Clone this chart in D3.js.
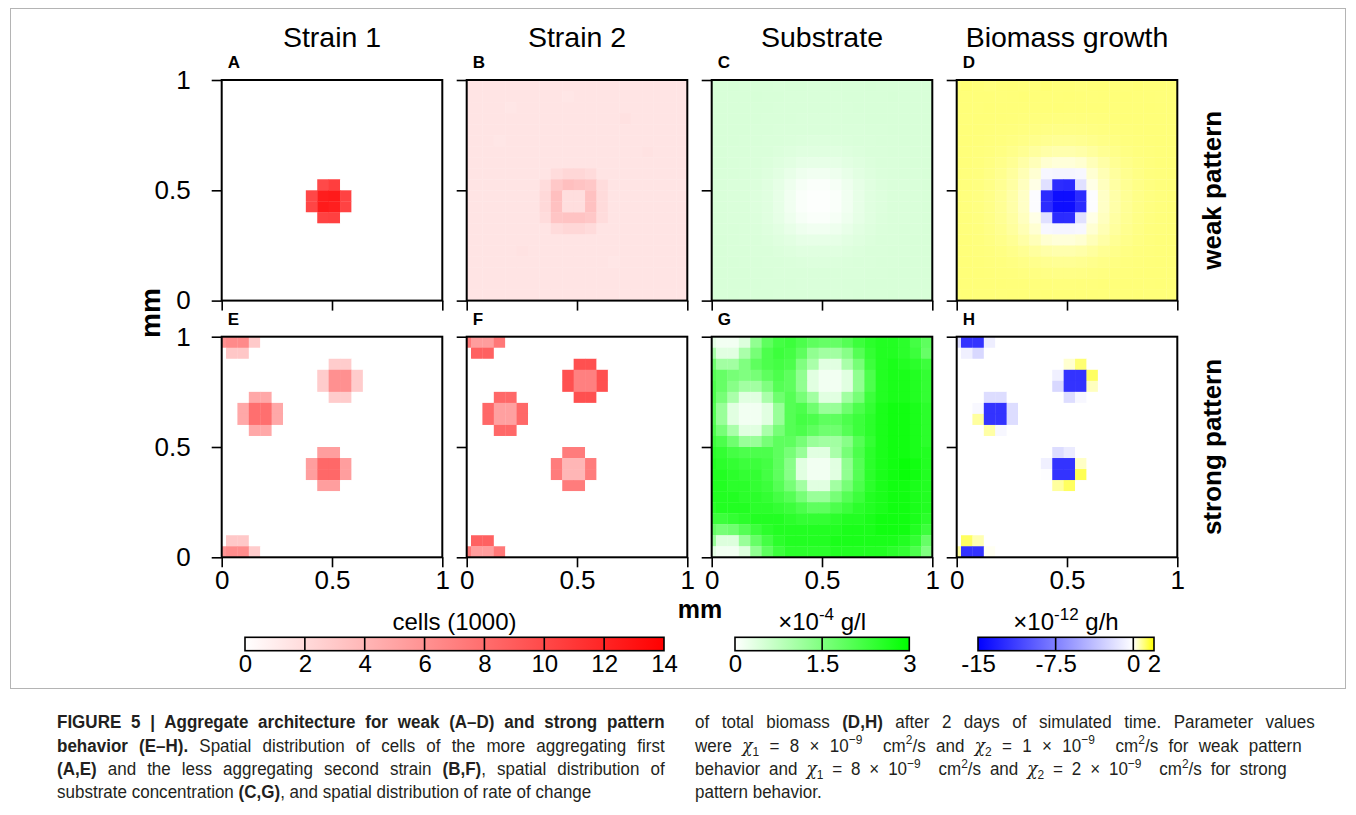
<!DOCTYPE html>
<html>
<head>
<meta charset="utf-8">
<script src="https://cdn.jsdelivr.net/npm/d3@7"></script>
<style>
  html, body { margin: 0; padding: 0; background: #ffffff; }
  svg { display: block; font-family: "Liberation Sans", Arial, sans-serif; }
</style>
</head>
<body>
<svg id="fig" width="1356" height="815"></svg>
<script>
// ---------- labels ----------
const columnTitles = ["Strain 1", "Strain 2", "Substrate", "Biomass growth"];
const rowTitles = ["weak pattern", "strong pattern"];
const panelLetters = [["A", "B", "C", "D"], ["E", "F", "G", "H"]];
const axisTicks = [0, 0.5, 1];

// ---------- simulation grid (mm) ----------
const nRows = 20, nCols = 20;
const cellWidthMM = 0.0517, firstColumnEdgeMM = -0.0322, cellHeightMM = 0.05;

// ---------- colour bar ticks ----------
const cellsTicks = [0, 2, 4, 6, 8, 10, 12, 14];
const substrateTicks = [0, 1.5, 3];
const growthTicks = [-15, -7.5, 0, 2];

// ---------- Strain 1, weak pattern (cells, 1000) : [row, col, value], rest 0 ----------
const strain1WeakBase = 0;
const strain1WeakCells = [
  [9, 9, 10.0], [9, 10, 10.6],
  [10, 8, 10.1], [10, 9, 12.4], [10, 10, 12.6], [10, 11, 10.4],
  [11, 8, 10.2], [11, 9, 12.5], [11, 10, 12.3], [11, 11, 10.3],
  [12, 9, 10.4], [12, 10, 10.5]
];

// ---------- Strain 2, weak pattern ----------
const strain2WeakBase = 1.5;
const strain2WeakCells = [
  [2, 4, 1.35], [3, 14, 1.65], [5, 3, 1.4], [6, 16, 1.6], [15, 5, 1.6], [16, 13, 1.4], [1, 9, 1.35],
  [8, 8, 1.9], [8, 9, 2.2], [8, 10, 2.2], [8, 11, 2.0],
  [9, 7, 1.9], [9, 8, 3.0], [9, 9, 3.5], [9, 10, 3.3], [9, 11, 3.1], [9, 12, 1.9],
  [10, 7, 2.1], [10, 8, 3.5], [10, 9, 1.8], [10, 10, 1.8], [10, 11, 3.4], [10, 12, 2.0],
  [11, 7, 2.1], [11, 8, 3.4], [11, 9, 1.8], [11, 10, 1.8], [11, 11, 3.4], [11, 12, 2.0],
  [12, 7, 1.9], [12, 8, 3.2], [12, 9, 3.3], [12, 10, 3.3], [12, 11, 3.1], [12, 12, 1.9],
  [13, 8, 2.0], [13, 9, 2.2], [13, 10, 2.2], [13, 11, 2.0]
];

// ---------- Substrate, weak pattern (x1e-4 g/l) ----------
const substrateWeak = [
  [0.46,0.46,0.47,0.46,0.46,0.46,0.45,0.46,0.46,0.45,0.45,0.46,0.46,0.46,0.47,0.46,0.46,0.46,0.46,0.46],
  [0.46,0.46,0.46,0.46,0.47,0.46,0.46,0.45,0.45,0.45,0.45,0.45,0.46,0.46,0.46,0.46,0.47,0.46,0.46,0.46],
  [0.46,0.46,0.46,0.46,0.46,0.46,0.45,0.45,0.45,0.45,0.45,0.45,0.45,0.46,0.46,0.46,0.46,0.46,0.46,0.46],
  [0.46,0.46,0.46,0.46,0.46,0.45,0.45,0.45,0.44,0.44,0.44,0.44,0.45,0.45,0.46,0.46,0.46,0.46,0.46,0.46],
  [0.46,0.46,0.46,0.46,0.45,0.45,0.44,0.44,0.43,0.43,0.43,0.43,0.44,0.44,0.45,0.45,0.46,0.46,0.46,0.46],
  [0.46,0.46,0.46,0.45,0.45,0.44,0.43,0.42,0.41,0.40,0.40,0.41,0.42,0.43,0.44,0.45,0.45,0.46,0.46,0.46],
  [0.46,0.46,0.45,0.45,0.44,0.43,0.41,0.39,0.37,0.36,0.36,0.37,0.39,0.41,0.43,0.44,0.45,0.45,0.46,0.46],
  [0.46,0.46,0.45,0.44,0.43,0.41,0.38,0.34,0.30,0.28,0.28,0.30,0.34,0.38,0.41,0.43,0.44,0.45,0.46,0.46],
  [0.46,0.45,0.45,0.44,0.42,0.39,0.34,0.27,0.20,0.16,0.16,0.20,0.27,0.34,0.39,0.42,0.44,0.45,0.45,0.46],
  [0.46,0.45,0.44,0.43,0.41,0.37,0.30,0.20,0.11,0.06,0.06,0.11,0.20,0.30,0.37,0.41,0.43,0.44,0.45,0.46],
  [0.46,0.45,0.44,0.43,0.40,0.36,0.28,0.16,0.06,0.02,0.02,0.06,0.16,0.28,0.36,0.40,0.43,0.44,0.45,0.46],
  [0.46,0.45,0.44,0.43,0.40,0.36,0.28,0.16,0.06,0.02,0.02,0.06,0.16,0.28,0.36,0.40,0.43,0.44,0.45,0.46],
  [0.46,0.45,0.44,0.43,0.41,0.37,0.30,0.20,0.11,0.06,0.06,0.11,0.20,0.30,0.37,0.41,0.43,0.44,0.45,0.46],
  [0.46,0.45,0.45,0.44,0.42,0.39,0.34,0.27,0.20,0.16,0.16,0.20,0.27,0.34,0.39,0.42,0.44,0.45,0.45,0.46],
  [0.46,0.46,0.45,0.44,0.43,0.41,0.38,0.34,0.30,0.28,0.28,0.30,0.34,0.38,0.41,0.43,0.44,0.45,0.46,0.46],
  [0.46,0.46,0.45,0.45,0.44,0.43,0.41,0.39,0.37,0.36,0.36,0.37,0.39,0.41,0.43,0.44,0.45,0.45,0.46,0.46],
  [0.46,0.46,0.46,0.45,0.45,0.44,0.43,0.42,0.41,0.40,0.40,0.41,0.42,0.43,0.44,0.45,0.45,0.46,0.46,0.46],
  [0.46,0.46,0.46,0.46,0.45,0.45,0.44,0.44,0.43,0.43,0.43,0.43,0.44,0.44,0.45,0.45,0.46,0.46,0.46,0.46],
  [0.46,0.46,0.46,0.46,0.46,0.45,0.45,0.45,0.44,0.44,0.44,0.44,0.45,0.45,0.46,0.46,0.46,0.46,0.46,0.46],
  [0.46,0.46,0.47,0.46,0.46,0.46,0.45,0.45,0.45,0.45,0.45,0.45,0.45,0.46,0.46,0.46,0.47,0.46,0.46,0.46]
];

// ---------- Biomass growth, weak pattern (x1e-12 g/h) ----------
const growthWeak = [
  [1.05,1.08,1.05,1.02,1.05,1.06,1.04,1.05,1.08,1.05,1.05,1.03,1.05,1.06,1.05,1.04,1.07,1.05,1.05,1.05],
  [1.06,1.05,1.05,1.05,1.04,1.05,1.07,1.05,1.05,1.05,1.06,1.05,1.04,1.05,1.05,1.06,1.05,1.05,1.04,1.05],
  [1.05,1.05,1.04,1.06,1.05,1.05,1.05,1.04,1.05,1.06,1.05,1.05,1.05,1.05,1.04,1.05,1.05,1.06,1.05,1.05],
  [1.05,1.04,1.05,1.05,1.05,1.04,1.03,1.02,1.02,1.01,1.01,1.02,1.02,1.03,1.04,1.05,1.05,1.05,1.05,1.05],
  [1.05,1.05,1.05,1.04,1.03,1.02,1.00,0.98,0.96,0.95,0.95,0.96,0.98,1.00,1.02,1.03,1.04,1.05,1.05,1.05],
  [1.05,1.05,1.04,1.03,1.01,0.98,0.94,0.90,0.86,0.84,0.84,0.86,0.90,0.94,0.98,1.01,1.03,1.04,1.05,1.05],
  [1.05,1.04,1.03,1.01,0.97,0.92,0.85,0.76,0.68,0.64,0.64,0.68,0.76,0.85,0.92,0.97,1.01,1.03,1.04,1.05],
  [1.05,1.04,1.02,0.98,0.92,0.84,0.70,0.55,0.36,0.30,0.30,0.36,0.55,0.70,0.84,0.92,0.98,1.02,1.04,1.05],
  [1.04,1.03,1.01,0.96,0.88,0.76,0.58,0.35,-0.50,-0.60,-0.60,-0.50,0.35,0.58,0.76,0.88,0.96,1.01,1.03,1.04],
  [1.04,1.03,1.00,0.94,0.85,0.72,0.50,0.20,-1.80,-12.4,-12.6,-1.80,0.20,0.50,0.72,0.85,0.94,1.00,1.03,1.04],
  [1.04,1.02,0.99,0.93,0.83,0.68,0.45,-0.15,-12.5,-14.2,-14.2,-12.4,-0.15,0.45,0.68,0.83,0.93,0.99,1.02,1.04],
  [1.04,1.02,0.99,0.93,0.83,0.68,0.45,-0.15,-12.4,-14.2,-14.2,-12.5,-0.15,0.45,0.68,0.83,0.93,0.99,1.02,1.04],
  [1.04,1.03,1.00,0.94,0.85,0.72,0.50,0.20,-1.80,-12.5,-12.4,-1.80,0.20,0.50,0.72,0.85,0.94,1.00,1.03,1.04],
  [1.04,1.03,1.01,0.96,0.88,0.76,0.58,0.35,-0.50,-0.60,-0.60,-0.50,0.35,0.58,0.76,0.88,0.96,1.01,1.03,1.04],
  [1.05,1.04,1.02,0.98,0.92,0.84,0.70,0.55,0.36,0.30,0.30,0.36,0.55,0.70,0.84,0.92,0.98,1.02,1.04,1.05],
  [1.05,1.04,1.03,1.01,0.97,0.92,0.85,0.76,0.68,0.64,0.64,0.68,0.76,0.85,0.92,0.97,1.01,1.03,1.04,1.05],
  [1.05,1.05,1.04,1.03,1.01,0.98,0.94,0.90,0.86,0.84,0.84,0.86,0.90,0.94,0.98,1.01,1.03,1.04,1.05,1.05],
  [1.05,1.05,1.05,1.04,1.03,1.02,1.00,0.98,0.96,0.95,0.95,0.96,0.98,1.00,1.02,1.03,1.04,1.05,1.05,1.05],
  [1.06,1.05,1.05,1.05,1.05,1.04,1.04,1.03,1.03,1.02,1.02,1.03,1.03,1.04,1.04,1.05,1.05,1.05,1.06,1.05],
  [1.05,1.07,1.05,1.05,1.04,1.05,1.05,1.05,1.06,1.05,1.05,1.05,1.05,1.04,1.05,1.05,1.06,1.05,1.05,1.05]
];

// ---------- Strain 1, strong pattern ----------
const strain1StrongBase = 0;
const strain1StrongCells = [
  [0, 0, 6.0], [0, 1, 6.4], [0, 2, 6.4], [0, 3, 2.9], [1, 1, 3.1], [1, 2, 3.1],
  [18, 1, 3.0], [18, 2, 3.0], [19, 0, 5.8], [19, 1, 6.3], [19, 2, 6.3], [19, 3, 2.8],
  [2, 10, 2.8], [2, 11, 2.8], [3, 9, 2.8], [3, 10, 6.1], [3, 11, 6.1], [3, 12, 2.8],
  [4, 9, 2.8], [4, 10, 6.1], [4, 11, 6.1], [4, 12, 2.8], [5, 10, 2.8], [5, 11, 2.8],
  [5, 3, 4.8], [5, 4, 4.8], [6, 2, 4.8], [6, 3, 7.9], [6, 4, 7.9], [6, 5, 4.8],
  [7, 2, 4.8], [7, 3, 7.9], [7, 4, 7.9], [7, 5, 4.8], [8, 3, 4.8], [8, 4, 4.8],
  [10, 9, 5.3], [10, 10, 5.3], [11, 8, 5.3], [11, 9, 8.3], [11, 10, 8.3], [11, 11, 5.3],
  [12, 8, 5.3], [12, 9, 8.3], [12, 10, 8.3], [12, 11, 5.3], [13, 9, 5.3], [13, 10, 5.3]
];

// ---------- Strain 2, strong pattern ----------
const strain2StrongBase = 0;
const strain2StrongCells = [
  [0, 0, 7.4], [0, 1, 5.4], [0, 2, 5.4], [0, 3, 7.4], [1, 1, 8.7], [1, 2, 8.7],
  [18, 1, 8.7], [18, 2, 8.7], [19, 0, 7.4], [19, 1, 5.4], [19, 2, 5.4], [19, 3, 7.4],
  [2, 10, 9.6], [2, 11, 9.6], [3, 9, 9.6], [3, 10, 7.0], [3, 11, 7.0], [3, 12, 9.6],
  [4, 9, 9.6], [4, 10, 7.0], [4, 11, 7.0], [4, 12, 9.6], [5, 10, 9.6], [5, 11, 9.6],
  [5, 3, 8.3], [5, 4, 8.3], [6, 2, 8.3], [6, 3, 5.2], [6, 4, 5.2], [6, 5, 8.3],
  [7, 2, 8.3], [7, 3, 5.2], [7, 4, 5.2], [7, 5, 8.3], [8, 3, 8.3], [8, 4, 8.3],
  [10, 9, 7.2], [10, 10, 7.2], [11, 8, 7.2], [11, 9, 4.0], [11, 10, 4.0], [11, 11, 7.2],
  [12, 8, 7.2], [12, 9, 4.0], [12, 10, 4.0], [12, 11, 7.2], [13, 9, 7.2], [13, 10, 7.2]
];

// ---------- Substrate, strong pattern ----------
const substrateStrong = [
  [0.30,0.15,0.15,0.40,1.30,1.90,2.20,2.30,2.10,1.90,1.80,1.80,2.00,2.30,2.50,2.60,2.60,2.50,2.20,1.90],
  [1.00,0.35,0.35,1.00,1.60,2.10,2.30,2.20,1.90,1.30,1.10,1.10,1.40,2.00,2.40,2.60,2.60,2.50,2.30,1.80],
  [1.70,1.10,1.10,1.50,1.90,2.10,2.20,2.10,1.50,1.00,0.35,0.35,1.00,1.60,2.30,2.60,2.70,2.60,2.50,2.30],
  [2.00,1.80,1.60,1.50,1.60,1.90,2.10,1.90,1.30,0.35,0.15,0.15,0.35,1.30,2.10,2.60,2.70,2.70,2.60,2.40],
  [2.10,1.80,1.40,1.10,1.10,1.50,2.00,1.90,1.30,0.35,0.15,0.15,0.35,1.30,2.10,2.60,2.70,2.70,2.60,2.40],
  [2.10,1.60,1.00,0.35,0.35,1.00,1.70,2.00,1.60,1.10,0.35,0.35,1.10,1.60,2.30,2.60,2.70,2.70,2.60,2.40],
  [2.00,1.20,0.35,0.15,0.15,0.35,1.20,2.00,2.10,1.70,1.20,1.20,1.70,2.10,2.40,2.70,2.80,2.80,2.70,2.50],
  [2.00,1.20,0.35,0.15,0.15,0.35,1.20,2.00,2.20,2.10,1.90,1.90,2.10,2.30,2.50,2.70,2.80,2.80,2.70,2.50],
  [2.10,1.60,1.00,0.35,0.35,1.00,1.60,2.00,2.10,1.90,1.70,1.70,2.00,2.30,2.50,2.70,2.80,2.80,2.70,2.50],
  [2.30,2.10,1.70,1.20,1.20,1.60,1.90,1.90,1.60,1.20,1.10,1.10,1.40,2.00,2.40,2.70,2.80,2.80,2.70,2.50],
  [2.50,2.40,2.20,2.10,2.10,2.10,1.90,1.60,1.20,0.35,0.35,1.00,1.60,2.10,2.50,2.70,2.80,2.80,2.70,2.60],
  [2.60,2.50,2.40,2.30,2.30,2.20,1.90,1.40,0.35,0.15,0.15,0.35,1.30,2.00,2.50,2.70,2.80,2.90,2.80,2.60],
  [2.60,2.60,2.50,2.40,2.40,2.20,1.90,1.40,0.35,0.15,0.15,0.35,1.30,2.00,2.50,2.70,2.80,2.90,2.80,2.60],
  [2.60,2.60,2.50,2.50,2.40,2.30,2.00,1.60,1.10,0.35,0.35,1.10,1.60,2.10,2.50,2.70,2.80,2.80,2.70,2.60],
  [2.60,2.60,2.60,2.50,2.50,2.40,2.20,2.00,1.60,1.20,1.20,1.60,2.00,2.30,2.60,2.70,2.80,2.80,2.70,2.60],
  [2.50,2.60,2.60,2.60,2.50,2.50,2.40,2.30,2.10,1.90,1.90,2.10,2.30,2.50,2.60,2.70,2.80,2.80,2.70,2.60],
  [2.30,2.30,2.40,2.50,2.60,2.60,2.60,2.50,2.40,2.40,2.40,2.50,2.60,2.60,2.70,2.80,2.80,2.80,2.70,2.50],
  [1.80,1.60,1.70,2.00,2.30,2.50,2.60,2.60,2.60,2.60,2.60,2.60,2.70,2.70,2.70,2.80,2.80,2.80,2.60,2.30],
  [1.20,0.40,0.40,1.20,1.80,2.20,2.50,2.60,2.60,2.60,2.60,2.70,2.70,2.70,2.70,2.70,2.70,2.60,2.40,1.80],
  [0.30,0.15,0.15,0.40,1.30,1.90,2.30,2.50,2.50,2.50,2.50,2.60,2.60,2.60,2.60,2.60,2.50,2.40,2.10,1.50]
];

// ---------- Biomass growth, strong pattern ----------
const growthStrongBase = 0;
const growthStrongCells = [
  [0, 0, -2.0], [0, 1, -12.0], [0, 2, -12.0], [0, 3, -1.0], [1, 1, -0.9], [1, 2, -2.3],
  [18, 1, 1.25], [18, 2, 0.6], [19, 0, 0.8], [19, 1, -12.0], [19, 2, -12.0], [19, 3, 0.1],
  [2, 10, 0.37], [2, 11, 1.1], [3, 9, -0.9], [3, 10, -12.0], [3, 11, -12.0], [3, 12, 1.25],
  [4, 9, -2.3], [4, 10, -12.0], [4, 11, -12.0], [4, 12, 0.5], [5, 10, -2.0], [5, 11, -0.5],
  [5, 3, -2.0], [5, 4, -2.0], [6, 2, -0.4], [6, 3, -12.0], [6, 4, -12.0], [6, 5, -2.0],
  [7, 2, 0.75], [7, 3, -12.0], [7, 4, -12.0], [7, 5, -2.0], [8, 3, 0.7], [8, 4, -0.5],
  [10, 9, -2.0], [10, 10, -1.2], [11, 8, -0.9], [11, 9, -12.0], [11, 10, -12.0], [11, 11, 0.45],
  [12, 8, -0.1], [12, 9, -12.0], [12, 10, -12.0], [12, 11, 1.35], [13, 9, 0.75], [13, 10, 1.25]
];

// ---------- colour scales ----------
const cellsColor = d3.scaleLinear().domain([0, 14]).range(["#ffffff", "#ff0000"]).clamp(true);
const substrateColor = d3.scaleLinear().domain([0, 3]).range(["#ffffff", "#00ff00"]).clamp(true);
const growthColor = d3.scaleLinear().domain([-15, 0, 2]).range(["#0000ff", "#ffffff", "#ffff00"]).clamp(true);

function denseGrid(base, cells) {
  const g = d3.range(nRows).map(() => d3.range(nCols).map(() => base));
  cells.forEach(([r, c, v]) => { g[r][c] = v; });
  return g;
}

const panels = [
  { row: 0, col: 0, grid: denseGrid(strain1WeakBase, strain1WeakCells), color: cellsColor },
  { row: 0, col: 1, grid: denseGrid(strain2WeakBase, strain2WeakCells), color: cellsColor },
  { row: 0, col: 2, grid: substrateWeak, color: substrateColor },
  { row: 0, col: 3, grid: growthWeak, color: growthColor },
  { row: 1, col: 0, grid: denseGrid(strain1StrongBase, strain1StrongCells), color: cellsColor },
  { row: 1, col: 1, grid: denseGrid(strain2StrongBase, strain2StrongCells), color: cellsColor },
  { row: 1, col: 2, grid: substrateStrong, color: substrateColor },
  { row: 1, col: 3, grid: denseGrid(growthStrongBase, growthStrongCells), color: growthColor }
];

// ---------- layout ----------
const svg = d3.select("#fig");
const defs = svg.append("defs");
const panelLeft0 = 221.7, panelStepX = 245, panelTop0 = 80, panelStepY = 256.7, panelSize = 220.6;

// figure frame
svg.append("rect")
  .attr("x", 10.5).attr("y", 8.5).attr("width", 1335).attr("height", 680)
  .attr("fill", "none").attr("stroke", "#b4b4b4").attr("stroke-width", 1);

panels.forEach((p, i) => {
  const left = panelLeft0 + p.col * panelStepX;
  const top = panelTop0 + p.row * panelStepY;
  const x = d3.scaleLinear().domain([0, 1]).range([left, left + panelSize]);
  const y = d3.scaleLinear().domain([0, 1]).range([top + panelSize, top]);

  const clipId = "panel-clip-" + i;
  defs.append("clipPath").attr("id", clipId).append("rect")
    .attr("x", left).attr("y", top).attr("width", panelSize).attr("height", panelSize);

  const cells = p.grid.flatMap((rowVals, r) => rowVals.map((v, c) => ({ r, c, v })));
  svg.append("g").attr("clip-path", `url(#${clipId})`)
    .selectAll("rect").data(cells).join("rect")
    .attr("x", d => x(firstColumnEdgeMM + d.c * cellWidthMM))
    .attr("width", x(cellWidthMM) - x(0) + 0.35)
    .attr("y", d => y(1 - d.r * cellHeightMM))
    .attr("height", y(0) - y(cellHeightMM) + 0.35)
    .attr("fill", d => p.color(d.v));

  // axes
  const yAxis = d3.axisLeft(y).tickValues(axisTicks).tickSize(10).tickPadding(21)
    .tickFormat(p.col === 0 ? d3.format("") : () => "");
  const xAxis = d3.axisBottom(x).tickValues(axisTicks).tickSize(10).tickPadding(3)
    .tickFormat(p.row === 1 ? d3.format("") : () => "");
  [svg.append("g").attr("transform", `translate(${left},0)`).call(yAxis),
   svg.append("g").attr("transform", `translate(0,${top + panelSize})`).call(xAxis)]
    .forEach(g => {
      g.select(".domain").remove();
      g.selectAll(".tick line").attr("stroke", "#000").attr("stroke-width", 1.6);
      g.selectAll(".tick text").attr("font-size", 26).attr("fill", "#000")
        .attr("font-family", "'Liberation Sans', Arial, sans-serif");
    });

  // box
  svg.append("rect").attr("x", left).attr("y", top).attr("width", panelSize).attr("height", panelSize)
    .attr("fill", "none").attr("stroke", "#000").attr("stroke-width", 2);

  // panel letter
  svg.append("text").attr("x", left + 6).attr("y", top - 12)
    .attr("font-size", 17).attr("font-weight", "bold").text(panelLetters[p.row][p.col]);
});

// column titles
columnTitles.forEach((t, c) => {
  svg.append("text").attr("x", panelLeft0 + c * panelStepX + panelSize / 2).attr("y", 46.5)
    .attr("text-anchor", "middle").attr("font-size", 28.5).text(t);
});

// row titles
rowTitles.forEach((t, r) => {
  const cy = panelTop0 + r * panelStepY + panelSize / 2;
  svg.append("text").attr("transform", `translate(1221,${cy}) rotate(-90)`)
    .attr("text-anchor", "middle").attr("font-size", 26).attr("font-weight", "bold").text(t);
});

// axis titles
svg.append("text").attr("transform", "translate(160,313) rotate(-90)")
  .attr("text-anchor", "middle").attr("font-size", 28).attr("font-weight", "bold").text("mm");
svg.append("text").attr("x", 700).attr("y", 618)
  .attr("text-anchor", "middle").attr("font-size", 25).attr("font-weight", "bold").text("mm");

// ---------- colour bars ----------
function colorBar(scale, ticks, x0, x1, titleParts, gradId) {
  const bx = d3.scaleLinear().domain(d3.extent(scale.domain())).range([x0, x1]);
  const barTop = 637.3, barH = 13.4;
  const grad = defs.append("linearGradient").attr("id", gradId)
    .attr("x1", 0).attr("x2", 1).attr("y1", 0).attr("y2", 0);
  const [lo, hi] = bx.domain();
  scale.domain().forEach(v => {
    grad.append("stop").attr("offset", (v - lo) / (hi - lo)).attr("stop-color", scale(v));
  });
  svg.append("rect").attr("x", x0).attr("y", barTop).attr("width", x1 - x0).attr("height", barH)
    .attr("fill", `url(#${gradId})`).attr("stroke", "#000").attr("stroke-width", 1.6);
  svg.append("g").selectAll("line").data(ticks.slice(1, -1)).join("line")
    .attr("x1", d => bx(d)).attr("x2", d => bx(d)).attr("y1", barTop).attr("y2", barTop + barH)
    .attr("stroke", "#000").attr("stroke-width", 1.6);
  const ax = d3.axisBottom(bx).tickValues(ticks).tickSize(0).tickPadding(4).tickFormat(d3.format(""));
  const g = svg.append("g").attr("transform", `translate(0,${barTop + barH})`).call(ax);
  g.select(".domain").remove();
  g.selectAll(".tick text").attr("font-size", 24).attr("fill", "#000")
    .attr("font-family", "'Liberation Sans', Arial, sans-serif")
    .text(d => d < 0 ? "-" + Math.abs(d) : d);
  const title = svg.append("text").attr("x", (x0 + x1) / 2).attr("y", 630)
    .attr("text-anchor", "middle").attr("font-size", 24);
  titleParts.forEach(part => {
    const ts = title.append("tspan").text(part.t);
    if (part.sup) ts.attr("font-size", 17).attr("dy", -10);
    if (part.after) ts.attr("dy", 10);
  });
}
colorBar(cellsColor, cellsTicks, 245, 664, [{ t: "cells (1000)" }], "grad-cells");
colorBar(substrateColor, substrateTicks, 735, 909.3,
  [{ t: "\u00d710" }, { t: "-4", sup: true }, { t: " g/l", after: true }], "grad-substrate");
colorBar(growthColor, growthTicks, 978, 1154,
  [{ t: "\u00d710" }, { t: "-12", sup: true }, { t: " g/h", after: true }], "grad-growth");

// ---------- caption ----------
// w: justified line width in px (0 = ragged line)
const captionLeft = [
  { w: 608, parts: [{ t: "FIGURE 5 | Aggregate architecture for weak (A\u2013D) and strong pattern", b: 1 }] },
  { w: 608, parts: [{ t: "behavior (E\u2013H).", b: 1 }, { t: " Spatial distribution of cells of the more aggregating first" }] },
  { w: 608, parts: [{ t: "(A,E)", b: 1 }, { t: " and the less aggregating second strain " }, { t: "(B,F)", b: 1 }, { t: ", spatial distribution of" }] },
  { w: 0, parts: [{ t: "substrate concentration " }, { t: "(C,G)", b: 1 }, { t: ", and spatial distribution of rate of change" }] }
];
const captionRight = [
  { w: 620, parts: [{ t: "of total biomass " }, { t: "(D,H)", b: 1 }, { t: " after 2 days of simulated time. Parameter values" }] },
  { w: 607, parts: [{ t: "were " }, { t: "\u03c7", i: 1 }, { t: "1", sub: 1 }, { t: " = 8 \u00d7 10" }, { t: "\u22129", sup: 1 },
    { t: "  cm" }, { t: "2", sup: 1 }, { t: "/s and " }, { t: "\u03c7", i: 1 }, { t: "2", sub: 1 }, { t: " = 1 \u00d7 10" },
    { t: "\u22129", sup: 1 }, { t: "  cm" }, { t: "2", sup: 1 }, { t: "/s for weak pattern" }] },
  { w: 592, parts: [{ t: "behavior and " }, { t: "\u03c7", i: 1 }, { t: "1", sub: 1 }, { t: " = 8 \u00d7 10" }, { t: "\u22129", sup: 1 },
    { t: "  cm" }, { t: "2", sup: 1 }, { t: "/s and " }, { t: "\u03c7", i: 1 }, { t: "2", sub: 1 }, { t: " = 2 \u00d7 10" },
    { t: "\u22129", sup: 1 }, { t: "  cm" }, { t: "2", sup: 1 }, { t: "/s for strong" }] },
  { w: 0, parts: [{ t: "pattern behavior." }] }
];
const captionBaselines = [728, 751.5, 775, 798];
const captionCondense = 0.92;

function captionLine(x, yBase, line) {
  const g = svg.append("g").attr("transform", `translate(${x},${yBase})`);
  const txt = g.append("text").attr("x", 0).attr("y", 0).attr("font-size", 18.5)
    .attr("font-family", "'Liberation Sans', Arial, sans-serif")
    .attr("fill", "#231f20").style("white-space", "pre");
  let shift = 0;
  line.parts.forEach(p => {
    const ts = txt.append("tspan").text(p.t);
    let target = 0;
    if (p.sub) target = 4;
    if (p.sup) target = -7.5;
    if (target !== shift) { ts.attr("dy", target - shift); shift = target; }
    if (p.sub || p.sup) ts.attr("font-size", 13);
    if (p.b) ts.attr("font-weight", "bold");
    if (p.i) ts.attr("font-family", "'DejaVu Serif', serif").attr("font-style", "italic");
  });
  let sx = captionCondense;
  if (line.w) {
    const natural = txt.node().getComputedTextLength();
    const nSpaces = line.parts.map(p => p.t).join("").split(" ").length - 1;
    const extra = line.w / sx - natural;
    if (extra >= 0) txt.style("word-spacing", (extra / nSpaces) + "px");
    else sx = line.w / natural;
  }
  txt.attr("transform", `scale(${sx},1)`);
}
captionLeft.forEach((l, i) => captionLine(57, captionBaselines[i], l));
captionRight.forEach((l, i) => captionLine(695, captionBaselines[i], l));
</script>
</body>
</html>
